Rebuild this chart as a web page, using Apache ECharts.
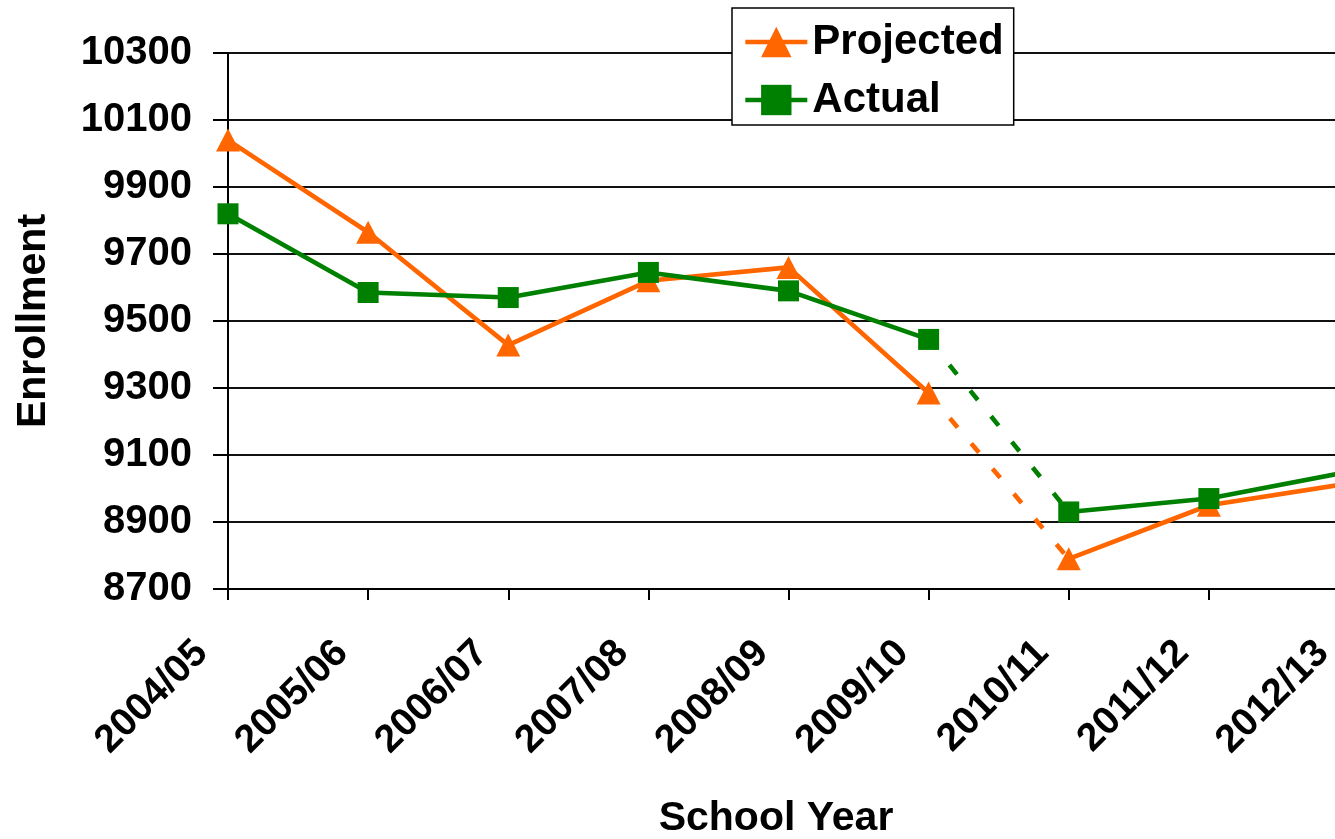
<!DOCTYPE html>
<html>
<head>
<meta charset="utf-8">
<script src="https://cdn.jsdelivr.net/npm/echarts@6/dist/echarts.min.js"></script>
<style>
html,body{margin:0;padding:0;background:#fff;}
#chart{width:1335px;height:839px;}
</style>
</head>
<body>
<div id="chart"></div>
<script>
// ---- data ----
const categories = ['2004/05','2005/06','2006/07','2007/08','2008/09','2009/10','2010/11','2011/12','2012/13'];
const projected = [10040, 9765, 9428, 9620, 9660, 9285, 8790, 8950, 9015];
const actual    = [9820, 9585, 9570, 9645, 9590, 9445, 8930, 8970, 9050];
const yMin = 8700, yMax = 10300, yInterval = 200;
// segments: solid up to index 5, dotted 5-6, solid from 6
const breakStart = 5, breakEnd = 6;

function seg(arr, from, to) {
  return arr.map((v, i) => (i >= from && i <= to) ? v : null);
}

const FONT = "'Liberation Sans', Arial, sans-serif";
const ORANGE = '#FF6600';
const GREEN = '#008000';

function makeSeries(name, arr, color, symbol, size) {
  const solid = {
    name: name, type: 'line', symbol: symbol, symbolSize: size,
    itemStyle: {color: color}, lineStyle: {color: color, width: 4.6},
    connectNulls: false, z: 3
  };
  return [
    Object.assign({}, solid, {data: seg(arr, 0, breakStart)}),
    Object.assign({}, solid, {data: seg(arr, breakEnd, arr.length - 1)}),
    {
      name: name, type: 'line', symbol: 'none', data: seg(arr, breakStart, breakEnd),
      itemStyle: {color: color},
      lineStyle: {color: color, width: 4.6, type: [12, 21]}, z: 2
    }
  ];
}

const chart = echarts.init(document.getElementById('chart'), null, {renderer: 'canvas'});
chart.setOption({
  animation: false,
  backgroundColor: '#fff',
  grid: {left: 228, top: 53, bottom: 250, right: -14, containLabel: false, outerBoundsMode: 'none'},
  legend: {
    data: ['Projected', 'Actual'],
    orient: 'vertical',
    left: 732, top: 8,
    padding: [12, 10, 3, 11],
    itemGap: 14,
    itemWidth: 62, itemHeight: 38,
    backgroundColor: '#fff',
    borderColor: '#000', borderWidth: 1.5,
    lineStyle: {width: 4.6},
    textStyle: {fontFamily: FONT, fontWeight: 'bold', fontSize: 42, color: '#000', lineHeight: 44}
  },
  xAxis: {
    type: 'category', data: categories, boundaryGap: false,
    axisLine: {lineStyle: {color: '#000', width: 2}},
    axisTick: {show: true, length: 11, lineStyle: {color: '#000', width: 2}, interval: 0},
    axisLabel: {
      interval: 0, rotate: 45, margin: 32, padding: [0, 37, 0, 0],
      fontFamily: FONT, fontWeight: 'bold', fontSize: 39, color: '#000'
    },
    splitLine: {show: false},
    name: 'School Year', nameLocation: 'middle', nameGap: 209,
    nameTextStyle: {fontFamily: FONT, fontWeight: 'bold', fontSize: 41, color: '#000', padding: [0, 25, 0, 0]}
  },
  yAxis: {
    type: 'value', min: yMin, max: yMax, interval: yInterval,
    axisLine: {show: true, lineStyle: {color: '#000', width: 2}},
    axisTick: {show: true, length: 15, lineStyle: {color: '#000', width: 2}},
    axisLabel: {margin: 36, fontFamily: FONT, fontWeight: 'bold', fontSize: 40, color: '#000',
      formatter: function (v) { return String(v); }},
    splitLine: {show: true, lineStyle: {color: '#111', width: 2}},
    name: 'Enrollment', nameLocation: 'middle', nameGap: 174, nameRotate: 90,
    nameTextStyle: {fontFamily: FONT, fontWeight: 'bold', fontSize: 41, color: '#000'}
  },
  series: [].concat(
    makeSeries('Projected', projected, ORANGE, 'triangle', [24, 23]),
    makeSeries('Actual', actual, GREEN, 'rect', 21)
  )
});
</script>
</body>
</html>
